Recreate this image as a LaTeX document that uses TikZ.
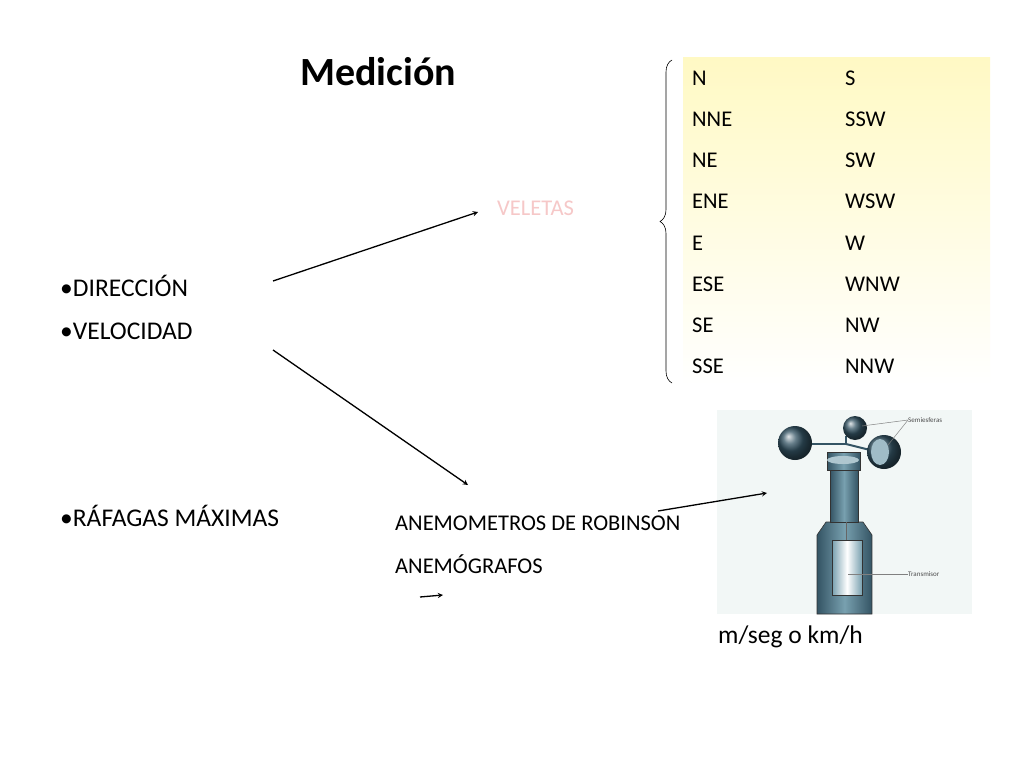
\documentclass[tikz,border=0pt]{standalone}
\usepackage{fontspec}
\setmainfont{Carlito}
\usetikzlibrary{decorations.pathreplacing}
\definecolor{pale}{RGB}{246,200,200}
\definecolor{tablebg}{RGB}{255,249,196}
\definecolor{metal}{RGB}{52,84,100}
\definecolor{metallight}{RGB}{120,160,175}
\definecolor{photobg}{RGB}{242,247,246}
\tikzset{
	txt/.style={anchor=west, inner sep=0pt, font=\fontsize{25.5}{30}\selectfont},
	dir/.style={anchor=west, inner sep=0pt, font=\fontsize{22.5}{26}\selectfont},
	small/.style={anchor=west, inner sep=0pt, font=\fontsize{22.5}{26}\selectfont},
	tiny/.style={anchor=west, inner sep=0pt, font=\fontsize{7}{8}\selectfont, text=black!70},
	arr/.style={-stealth, line width=1.3pt},
	part/.style={draw=black!80, line width=0.6pt, left color=metal, right color=metal, middle color=metallight},
}
\begin{document}
\begin{tikzpicture}[x=1pt, y=-1pt]
		\useasboundingbox[fill=white] (0,0) rectangle (1024,768);

		% table of directions
		\shade[top color=tablebg, bottom color=white] (683,58) rectangle (990,385);
		\draw[decorate, decoration={brace, amplitude=12pt}, line width=0.6pt] (672,383) -- (672,60);
		\foreach \a/\b [count=\i from 0] in {N/S, NNE/SSW, NE/SW, ENE/WSW, E/W, ESE/WNW, SE/NW, SSE/NNW} {
			\node[dir] (l\i) at (692, 78+41.2*\i) {\a};
			\node[dir] (r\i) at (845, 78+41.2*\i) {\b};
		}

		% texts
		\node[anchor=west, inner sep=0pt, font=\fontsize{40}{44}\selectfont\bfseries] (title) at (300,72) {Medición};
		\node[txt] (dir) at (60,286) {•DIRECCIÓN};
		\node[txt] (vel) at (60,331) {•VELOCIDAD};
		\node[txt] (raf) at (60,516) {•RÁFAGAS MÁXIMAS};
		\node[small, text=pale] (vel1) at (497,208) {VELETAS};
		\node[small] (rob) at (395,523) {ANEMOMETROS DE ROBINSON};
		\node[small] (graf) at (395,564) {ANEMÓGRAFOS};
		\node[txt] (unit) at (718,637) {m/seg o km/h};

		% photo of the anemometer
		\fill[photobg] (717,410) rectangle (972,614);
		\draw[part] (817,614) -- (817,535) -- (826,522) -- (863,522) -- (872,535) -- (872,614) -- cycle;
		\draw[part] (830,468) rectangle (858,522);
		\draw[part] (827,452) rectangle (860,470);
		\fill[metallight!60] (843,460) ellipse (16 and 4);
		\draw[part, left color=metallight, right color=metallight, middle color=white] (832,540) rectangle (862,595);
		\draw[black!60, line width=1pt] (846,522) -- (846,540);
		\draw[line width=2pt, metal] (800,444) -- (846,444) -- (846,436);
		\draw[line width=2pt, metal] (846,444) -- (878,452);
		\shade[ball color=metal] (795,443) circle (17);
		\shade[ball color=metal] (884,452) circle (17);
		\fill[metallight!70] (880,452) ellipse (9 and 13);
		\shade[ball color=metal] (855,428) circle (12);
		\node[tiny] (semi) at (908,420) {Semiesferas};
		\node[tiny] (trans) at (908,574) {Transmisor};
		\draw[black!50, line width=0.5pt] (semi.west) -- (862,426);
		\draw[black!50, line width=0.5pt] (semi.west) -- (888,445);
		\draw[black!50, line width=0.5pt] (trans.west) -- (848,574);

		% arrows
		\coordinate (a1) at (273,281);
		\coordinate (a2) at (478,212);
		\coordinate (b1) at (273,350);
		\coordinate (b2) at (468,485);
		\coordinate (c1) at (658,511);
		\coordinate (c2) at (767,493);
		\coordinate (d1) at (420,597);
		\coordinate (d2) at (443,595);
		\draw[arr] (a1) -- (a2);
		\draw[arr] (b1) -- (b2);
		\draw[arr] (c1) -- (c2);
		\draw[arr] (d1) -- (d2);
	\end{tikzpicture}
\end{document}
